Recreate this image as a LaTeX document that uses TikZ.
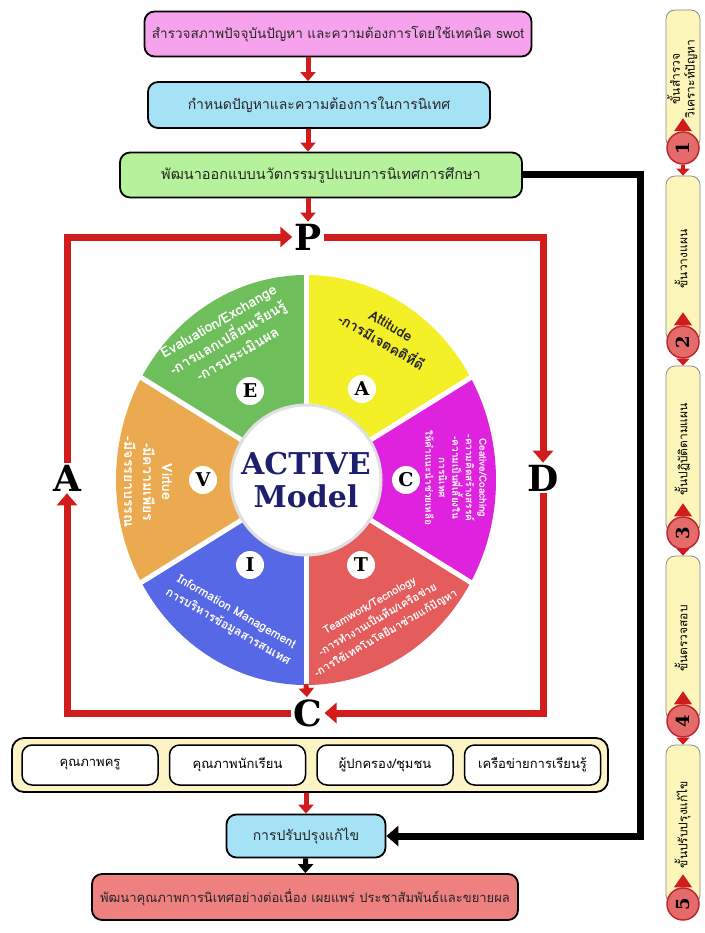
\documentclass[tikz,border=0pt]{standalone}
\usepackage{fontspec}
\usepackage{graphicx}
\usepackage{xcolor}
\setmainfont{Loma}[Script=Thai]
\newfontfamily\lettfont{DejaVu Serif}
\usepackage{tikz}
\usetikzlibrary{arrows.meta,positioning}

\definecolor{boxpink}{RGB}{247,162,236}
\definecolor{boxblue}{RGB}{166,226,246}
\definecolor{boxgreen}{RGB}{182,242,156}
\definecolor{panelcream}{RGB}{252,244,196}
\definecolor{boxsalmon}{RGB}{238,128,128}
\definecolor{tabyellow}{RGB}{253,246,186}
\definecolor{numred}{RGB}{229,106,106}
\definecolor{numborder}{RGB}{190,40,50}
\definecolor{loopred}{RGB}{208,28,28}
\definecolor{segyellow}{RGB}{244,240,40}
\definecolor{seggreen}{RGB}{110,190,92}
\definecolor{segorange}{RGB}{236,170,80}
\definecolor{segblue}{RGB}{86,104,230}
\definecolor{segred}{RGB}{228,92,92}
\definecolor{segmagenta}{RGB}{222,34,222}
\definecolor{navy}{RGB}{30,30,110}

\begin{document}
\begin{tikzpicture}[x=1pt, y=1pt,
    flowbox/.style={draw, line width=1.8pt, rounded corners=10pt, inner sep=2pt, text=black!85},
    subbox/.style={draw, line width=1.5pt, fill=white, rounded corners=10pt, minimum width=136pt, minimum height=40pt, font=\fontsize{13}{15}\selectfont},
    redarrow/.style={draw=loopred, line width=5pt, -{Triangle[length=9pt,width=15pt]}},
    blackarrow/.style={draw=black, line width=5pt, -{Triangle[length=9pt,width=15pt]}},
    loopline/.style={draw=loopred, line width=7pt, -{Triangle[length=12pt,width=20pt]}},
    pdca/.style={font=\lettfont\bfseries\fontsize{36}{36}\selectfont, inner sep=2pt},
    seglabel/.style={circle, fill=white, minimum size=28pt, inner sep=0pt, font=\lettfont\bfseries\fontsize{19}{19}\selectfont},
    segtext/.style={align=center, text=white, inner sep=0pt, font=\bfseries\fontsize{14}{19}\selectfont},
    tab/.style={draw=black!45, line width=0.8pt, fill=tabyellow, rounded corners=9pt, minimum width=34pt, inner sep=0pt, font=\fontsize{12}{14}\selectfont},
    numcircle/.style={circle, draw=numborder, line width=1.5pt, fill=numred, text=black, minimum size=32pt, inner sep=0pt, font=\lettfont\bfseries\fontsize{18}{18}\selectfont},
    tabarrow/.style={draw=loopred, line width=4pt, -{Triangle[length=7pt,width=13pt]}}]
    \fill[white] (0,0) rectangle (704,-933);
    \useasboundingbox (0,0) rectangle (704,-933);
    % Top steps
    \node[flowbox, fill=boxpink, minimum width=387pt, minimum height=45pt, font=\fontsize{13.5}{15}\selectfont] (survey) at (338,-34) {สำรวจสภาพปัจจุบันปัญหา และความต้องการโดยใช้เทคนิค swot};
    \node[flowbox, fill=boxblue, minimum width=342pt, minimum height=46pt, font=\fontsize{14}{16}\selectfont] (define) at (319,-105) {กำหนดปัญหาและความต้องการในการนิเทศ};
    \node[flowbox, fill=boxgreen, minimum width=402pt, minimum height=45pt, font=\fontsize{14.5}{16}\selectfont] (design) at (321,-175) {พัฒนาออกแบบนวัตกรรมรูปแบบการนิเทศการศึกษา};
    % PDCA letters
    \node[pdca] (P) at (308,-237) {P};
    \node[pdca] (D) at (543,-478) {D};
    \node[pdca] (C) at (308,-713) {C};
    \node[pdca] (A) at (67,-478) {A};
    \draw[redarrow] (survey.south -| P) -- (define.north -| P);
    \draw[redarrow] (define.south -| P) -- (design.north -| P);
    \draw[redarrow] (design.south -| P) -- (P);
    % Cycle round the wheel
    \draw[loopline] (A.north) |- (P.west);
    \draw[loopline] (P.east) -| (D.north);
    \draw[loopline] (D.south) |- (C.east);
    \draw[loopline] (C.west) -| (A.south);
    % Wheel
    \coordinate (W) at (306,-480);
    \coordinate (rim) at (306,-684);
    \foreach \a/\c in {30/segyellow, 90/seggreen, 150/segorange, 210/segblue, 270/segred, 330/segmagenta}
        \fill[\c] (W) -- ++(\a:190 and 205) arc[start angle=\a, end angle=\a+60, x radius=190, y radius=205] -- cycle;
    \foreach \a in {30,90,...,330}
        \draw[white, line width=5pt] (W) -- ++(\a:196 and 211);
    \node[circle, fill=white, draw=black!12, line width=3pt, minimum size=150pt, align=center, text=navy, font=\lettfont\bfseries\fontsize{30}{33}\selectfont] (hub) at (W) {ACTIVE\\Model};
    \node[seglabel] (lE) at (250,-391) {E};
    \node[seglabel] (lA) at (362,-389) {A};
    \node[seglabel] (lC) at (406,-480) {C};
    \node[seglabel] (lT) at (361,-565) {T};
    \node[seglabel] (lI) at (250,-565) {I};
    \node[seglabel] (lV) at (203,-480) {V};
    \node[segtext, rotate=30] (tE) at (228,-338) {Evaluation/Exchange\\-การแลกเปลี่ยนเรียนรู้\\-การประเมินผล};
    \node[segtext, rotate=-30, text=black!85] (tA) at (386,-334) {Attitude\\-การมีเจตคติที่ดี};
    \node[segtext, rotate=-90, font=\bfseries\fontsize{10}{13.5}\selectfont] (tC) at (456,-478) {Ceative/Coaching\\-ความคิดสร้างสรรค์\\-ความเป็นพี่เลี้ยงใน\\การนิเทศ\\ให้คำแนะนำช่วยเหลือ};
    \node[segtext, rotate=-90] (tV) at (148,-482) {Virtue\\-มีความเพียร\\-มีจรรยาบรรณ};
    \node[segtext, rotate=-30, font=\bfseries\fontsize{12}{17}\selectfont] (tI) at (232,-620) {Information Management\\การบริหารข้อมูลสารสนเทศ};
    \node[segtext, rotate=30, font=\bfseries\fontsize{11}{16}\selectfont] (tT) at (378,-620) {Teamwork/Tecnology\\-การทำงานเป็นทีม/เครือข่าย\\-การใช้เทคโนโลยีมาช่วยแก้ปัญหา};
    \draw[redarrow] (rim) -- (C);
    % Results and follow up
    \node[draw, line width=1.8pt, fill=panelcream, rounded corners=12pt, minimum width=596pt, minimum height=54pt] (panel) at (310,-765) {};
    \node[subbox] (teacher) at (90,-765) {คุณภาพครู};
    \node[subbox, right=10pt of teacher] (student) {คุณภาพนักเรียน};
    \node[subbox, right=10pt of student] (parent) {ผู้ปกครอง/ชุมชน};
    \node[subbox, right=10pt of parent] (network) {เครือข่ายการเรียนรู้};
    \node[flowbox, fill=boxblue, minimum width=159pt, minimum height=43pt, font=\fontsize{14}{16}\selectfont] (fix) at (306,-836) {การปรับปรุงแก้ไข};
    \node[flowbox, fill=boxsalmon, minimum width=426pt, minimum height=46pt, font=\fontsize{13}{15}\selectfont] (spread) at (305,-897) {พัฒนาคุณภาพการนิเทศอย่างต่อเนื่อง เผยแพร่ ประชาสัมพันธ์และขยายผล};
    \draw[redarrow] (fix.north |- panel.south) -- (fix.north);
    \draw[blackarrow] (fix) -- (spread);
    \coordinate (turn) at (640,0);
    \draw[draw=black, line width=7pt, -{Triangle[length=12pt,width=20pt]}] (design.east) -- (design.east -| turn) |- (fix.east);
    % Stages column
    \foreach \i/\y/\h/\txt in {1/79/138/{ขั้นสำรวจ\\วิเคราะห์ปัญหา}, 2/259/166/{ขั้นวางแผน}, 3/449.5/167/{ขั้นปฏิบัติตามแผน}, 4/638.5/165/{ขั้นตรวจสอบ}, 5/824.5/159/{ขั้นปรับปรุงแก้ไข}}
        \node[tab, minimum height=\h pt] (tab\i) at (683,-\y) {\rotatebox{90}{\begin{tabular}{@{}c@{}}\txt\end{tabular}}};
    \foreach \i/\c in {1/148, 2/342, 3/533, 4/721, 5/904} {
        \node[numcircle] (n\i) at (683,-\c) {\rotatebox{90}{\i}};
        \fill[loopred] ([xshift=-9pt]n\i.north) -- ([yshift=13pt]n\i.north) -- ([xshift=9pt]n\i.north) -- cycle;
    }
    \foreach \i/\j in {1/2, 2/3, 3/4, 4/5}
        \draw[tabarrow] (n\i) -- (tab\j);
\end{tikzpicture}
\end{document}
